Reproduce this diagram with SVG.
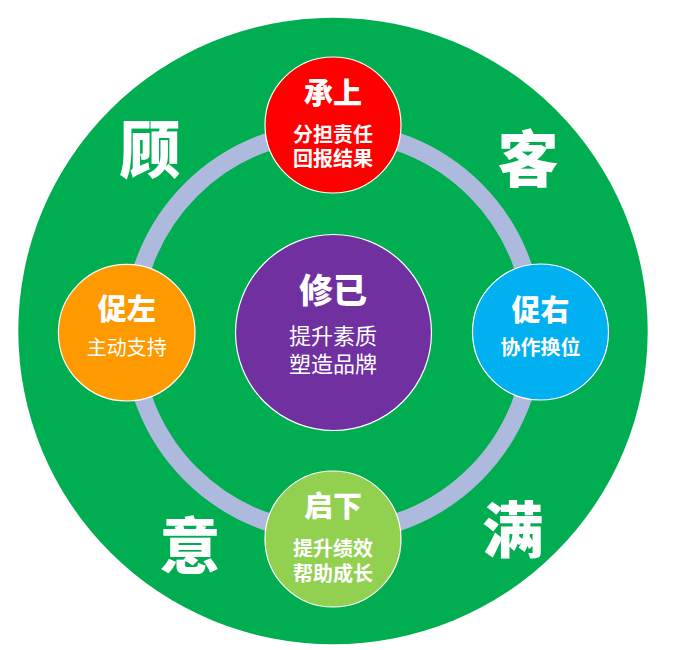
<svg xmlns="http://www.w3.org/2000/svg" width="677" height="650" viewBox="0 0 677 650">
<style>
text{font-family:"Noto Sans CJK SC","Noto Sans",sans-serif;fill:#fff;text-anchor:middle;dominant-baseline:central}
.t{font-size:29px;font-weight:900}
.s{font-size:20px;font-weight:bold}
.n{font-size:20px;font-weight:normal}
.big{font-size:61px;font-weight:900}
.node{stroke:#fff;stroke-width:1.2}
</style>
<rect width="677" height="650" fill="#fff"/>
<ellipse cx="333" cy="331" rx="314.7" ry="313.3" fill="#00AD50"/>
<g id="connectors">
<circle cx="333" cy="332" r="201" fill="none" stroke="#AEBADD" stroke-width="18"/>
</g>
<g id="outer-text">
<text class="big" x="150" y="146">顾</text>
<text class="big" x="528" y="155">客</text>
<text class="big" x="190" y="542">意</text>
<text class="big" x="513" y="526">满</text>
</g>
<g id="node-top">
<circle class="node" cx="333" cy="125" r="68" fill="#FF0000"/>
<text class="t" x="333" y="91">承上</text>
<text class="s" x="333" y="133">分担责任</text>
<text class="s" x="333" y="157">回报结果</text>
</g>
<g id="node-left">
<circle class="node" cx="126.7" cy="332.7" r="68.3" fill="#FF9900"/>
<text class="t" x="126.7" y="307">促左</text>
<text class="n" x="126.7" y="346">主动支持</text>
</g>
<g id="node-right">
<circle class="node" cx="540.5" cy="332" r="68" fill="#00B0F0"/>
<text class="t" x="540.5" y="308">促右</text>
<text class="s" x="540.5" y="346">协作换位</text>
</g>
<g id="node-bottom">
<circle class="node" cx="333" cy="539" r="68" fill="#92D050"/>
<text class="t" x="333" y="504">启下</text>
<text class="s" x="333" y="547">提升绩效</text>
<text class="s" x="333" y="572">帮助成长</text>
</g>
<g id="node-center">
<circle class="node" cx="333.5" cy="332.5" r="98" fill="#7030A0"/>
<text class="t" style="font-size:34px" x="333" y="288">修已</text>
<text class="n" style="font-size:22px" x="333" y="334">提升素质</text>
<text class="n" style="font-size:22px" x="333" y="362">塑造品牌</text>
</g>
</svg>
